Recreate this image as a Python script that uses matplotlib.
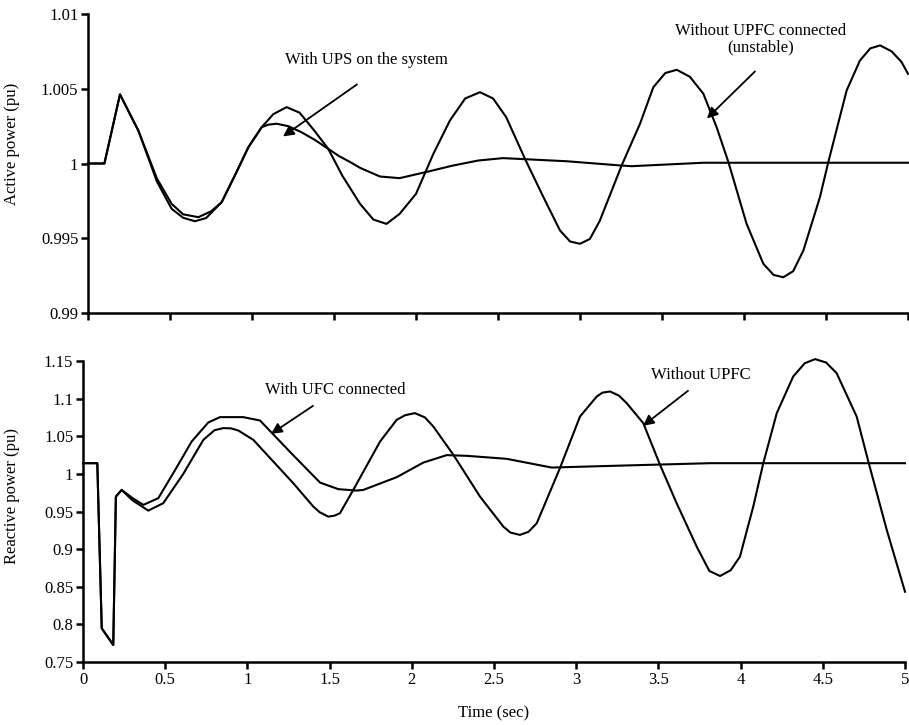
import matplotlib
matplotlib.use("Agg")
import matplotlib.pyplot as plt
from matplotlib.ticker import FuncFormatter

plt.rcParams['font.family'] = ['Liberation Serif', 'DejaVu Serif']

# ---- Active power (top panel) ----
t_p_upfc = [0.0, 0.10, 0.195, 0.307, 0.42, 0.51, 0.58, 0.673, 0.75, 0.815, 0.90, 0.978, 1.059, 1.10, 1.15,
            1.22, 1.30, 1.38, 1.465, 1.53, 1.598, 1.659, 1.78, 1.90, 2.07, 2.22, 2.38, 2.53, 2.92,
            3.244, 3.315, 3.752, 5.0]
p_upfc = [1.0, 1.0, 1.00462, 1.0022, 0.9990, 0.9973, 0.9966, 0.99641, 0.9968, 0.99741, 0.9993, 1.00109, 1.00243, 1.0026, 1.00266,
          1.0025, 1.0021, 1.0016, 1.00098, 1.0005, 1.0001, 0.99971, 0.99913, 0.99902, 0.99945, 0.99985, 1.0002, 1.00036, 1.00015,
          0.99987, 0.99982, 1.00005, 1.00005]

t_p_no = [0.0, 0.10, 0.195, 0.307, 0.42, 0.51, 0.58, 0.652, 0.72, 0.815, 0.90, 0.978, 1.059, 1.13, 1.211, 1.29,
          1.38, 1.465, 1.55, 1.659, 1.74, 1.82, 1.90, 2.0, 2.106, 2.207, 2.30, 2.39, 2.47, 2.55, 2.665,
          2.777, 2.878, 2.94, 3.0, 3.06, 3.12, 3.254, 3.366, 3.447, 3.52, 3.59, 3.67, 3.752, 3.833, 3.905,
          4.016, 4.118, 4.18, 4.24, 4.30, 4.362, 4.463, 4.514, 4.626, 4.707, 4.77, 4.83, 4.90, 4.96, 5.0]
p_no = [1.0, 1.0, 1.00462, 1.0022, 0.9988, 0.99697, 0.99637, 0.99614, 0.99635, 0.99741, 0.9993, 1.00109, 1.00243, 1.0033, 1.00377, 1.0034,
        1.0022, 1.00098, 0.9992, 0.9973, 0.99625, 0.99596, 0.99663, 0.99797, 1.00065, 1.00288, 1.00435, 1.00477, 1.00435, 1.0031, 1.0003,
        0.99775, 0.99552, 0.99478, 0.99463, 0.99495, 0.99615, 0.99987, 1.00266, 1.0051, 1.00605, 1.00627, 1.0058, 1.00467, 1.00243, 1.00009,
        0.99596, 0.99329, 0.99255, 0.99239, 0.9928, 0.99418, 0.99775, 1.00009, 1.00489, 1.00689, 1.0077, 1.0079, 1.0075, 1.0068, 1.006]

# ---- Reactive power (bottom panel) ----
t_q_upfc = [0.0, 0.087, 0.114, 0.184, 0.20, 0.235, 0.30, 0.367, 0.458, 0.56, 0.661, 0.762, 0.833, 0.975,
            1.077, 1.26, 1.442, 1.553, 1.665, 1.705, 1.908, 2.07, 2.212, 2.334, 2.577, 2.851, 3.206, 3.814, 5.0]
q_upfc = [1.0142, 1.0142, 0.7948, 0.7726, 0.9698, 0.9787, 0.968, 0.9588, 0.9677, 1.005, 1.043, 1.0683, 1.0754, 1.0754,
          1.0709, 1.029, 0.9884, 0.9797, 0.9778, 0.9787, 0.9956, 1.015, 1.0249, 1.024, 1.020, 1.0084, 1.0106, 1.0142, 1.0142]

t_q_no = [0.0, 0.087, 0.114, 0.184, 0.20, 0.235, 0.30, 0.397, 0.488, 0.61, 0.732, 0.80, 0.853, 0.90, 0.945, 1.036, 1.279,
          1.401, 1.44, 1.492, 1.53, 1.563, 1.644, 1.807, 1.908, 1.96, 2.019, 2.08, 2.131, 2.253, 2.415, 2.557, 2.60,
          2.658, 2.71, 2.76, 2.901, 3.023, 3.125, 3.16, 3.206, 3.26, 3.307, 3.408, 3.51, 3.611, 3.733, 3.81, 3.875,
          3.94, 3.996, 4.077, 4.138, 4.22, 4.32, 4.39, 4.453, 4.52, 4.584, 4.706, 4.777, 4.889, 5.0]
q_no = [1.0142, 1.0142, 0.7948, 0.7726, 0.9698, 0.9787, 0.965, 0.9512, 0.961, 1.0, 1.0452, 1.058, 1.0608, 1.0605, 1.0576, 1.0452, 0.9876,
        0.9565, 0.949, 0.9432, 0.9445, 0.9477, 0.9787, 1.043, 1.0718, 1.078, 1.0807, 1.075, 1.0629, 1.0253, 0.9698, 0.9299, 0.922,
        0.9189, 0.923, 0.9344, 1.0076, 1.0762, 1.1028, 1.108, 1.1095, 1.104, 1.094, 1.0674, 1.012, 0.961, 0.9033, 0.871, 0.8643,
        0.872, 0.89, 0.9565, 1.0142, 1.0807, 1.1294, 1.147, 1.1525, 1.148, 1.1339, 1.0762, 1.0164, 0.9255, 0.8434]

x_ticks = [0, 0.5, 1, 1.5, 2, 2.5, 3, 3.5, 4, 4.5, 5]
p_ticks = [0.99, 0.995, 1.0, 1.005, 1.01]
q_ticks = [0.75, 0.8, 0.85, 0.9, 0.95, 1.0, 1.05, 1.1, 1.15]

fig = plt.figure(figsize=(9.09, 7.25), dpi=100)
W, H = 909, 725
ax1 = fig.add_axes([88 / W, 1 - 313 / H, (908 - 88) / W, (313 - 14) / H])
ax2 = fig.add_axes([83 / W, 1 - 662 / H, (905 - 83) / W, (662 - 361) / H])

fmt = FuncFormatter(lambda v, p: '%g' % round(v, 4))
lw = 1.5
fs = 12
for ax in (ax1, ax2):
    for s in ('top', 'right'):
        ax.spines[s].set_visible(False)
    for s in ('left', 'bottom'):
        ax.spines[s].set_linewidth(1.8)
    ax.tick_params(direction='out', length=5, width=1.8, labelsize=fs, pad=2)
    ax.set_xlim(0, 5)
    ax.set_xticks(x_ticks)
    ax.yaxis.set_major_formatter(fmt)
    ax.xaxis.set_major_formatter(fmt)

ax1.plot(t_p_upfc, p_upfc, color='black', lw=lw, clip_on=False)
ax1.plot(t_p_no, p_no, color='black', lw=lw, clip_on=False)
ax1.set_ylim(0.99, 1.01)
ax1.set_yticks(p_ticks)
ax1.tick_params(axis='x', labelbottom=False)
ax1.set_ylabel('Active power (pu)', fontsize=fs)
ax1.yaxis.set_label_coords(-0.083, 0.567)

ax2.plot(t_q_upfc, q_upfc, color='black', lw=lw, clip_on=False)
ax2.plot(t_q_no, q_no, color='black', lw=lw, clip_on=False)
ax2.set_ylim(0.75, 1.15)
ax2.set_yticks(q_ticks)
ax2.set_ylabel('Reactive power (pu)', fontsize=fs)
ax2.yaxis.set_label_coords(-0.077, 0.55)
ax2.set_xlabel('Time (sec)', fontsize=fs, labelpad=13)

arrow = dict(arrowstyle='-|>', color='black', lw=1.3, mutation_scale=16, shrinkA=0, shrinkB=0)

ax1.text(1.70, 1.00689, 'With UPS on the system', ha='center', va='center', fontsize=fs)
ax1.annotate('', xy=(1.189, 1.00181), xytext=(1.64, 1.00529), arrowprops=arrow)
ax1.text(4.10, 1.00833, 'Without UPFC connected\n(unstable)', ha='center', va='center',
         fontsize=fs, linespacing=1.05)
ax1.annotate('', xy=(3.774, 1.00301), xytext=(4.067, 1.00616), arrowprops=arrow)

ax2.text(1.533, 1.1117, 'With UFC connected', ha='center', va='center', fontsize=fs)
ax2.annotate('', xy=(1.144, 1.0532), xytext=(1.399, 1.0904), arrowprops=arrow)
ax2.text(3.759, 1.1317, 'Without UPFC', ha='center', va='center', fontsize=fs)
ax2.annotate('', xy=(3.406, 1.0638), xytext=(3.68, 1.1104), arrowprops=arrow)

fig.savefig('out.png', dpi=100)
